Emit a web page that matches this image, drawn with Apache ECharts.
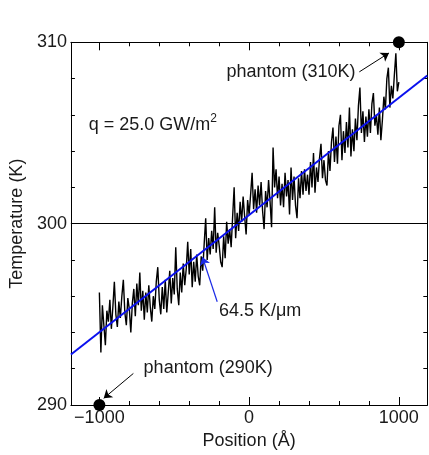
<!DOCTYPE html>
<html>
<head>
<meta charset="utf-8">
<script src="https://cdn.jsdelivr.net/npm/echarts@6/dist/echarts.min.js"></script>
<style>html,body{margin:0;padding:0;background:#fff}#c{width:429px;height:455px}</style>
</head>
<body>
<div id="c"></div>
<script>
// ---- data ----
const positionStart = -1000;   // Å
const positionStep = 10;       // Å
const temperatures = [
  296.2, 292.9, 295.5, 294.4, 293.3, 295.2, 294.6, 295.8, 294.2, 295.4,
  296.8, 295.0, 294.3, 295.7, 294.8, 296.0, 296.9, 295.1, 294.4, 295.9,
  295.3, 294.0, 295.6, 296.4, 294.9, 296.7, 295.5, 297.3, 295.2, 296.3,
  294.7, 296.2, 295.1, 296.6, 295.4, 294.6, 296.0, 295.3, 296.8, 297.6,
  295.8, 295.0, 296.5, 295.3, 296.9, 295.1, 296.2, 297.4, 295.6, 297.0,
  296.1, 298.7, 296.4, 295.5, 297.3, 296.2, 297.8, 296.6, 297.5, 299.0,
  297.2, 298.6, 296.5, 297.9, 296.8, 298.3, 297.1, 296.6, 298.2, 297.4,
  298.9, 300.3, 298.0, 299.2, 298.3, 299.6, 298.6, 300.9, 298.4, 299.5,
  298.8, 297.9, 297.6, 299.3, 298.1, 300.1, 298.9, 299.7, 298.7, 300.4,
  302.0, 299.2, 300.6, 299.6, 301.2, 300.1, 301.5, 300.4, 299.4, 301.3,
  300.5, 301.6, 302.8, 300.8, 301.9, 300.6, 302.1, 301.0, 302.3, 300.7,
  299.7, 301.8, 300.9, 302.4, 301.2, 299.8, 304.2, 302.0, 303.0, 301.4,
  302.6, 301.0, 302.2, 300.9, 302.8, 301.5, 302.4, 300.5, 303.1, 301.3,
  302.6, 301.0, 300.3, 302.5, 301.4, 302.9, 301.6, 303.0, 301.8, 302.7,
  301.6, 303.4, 302.0, 303.9, 301.7, 303.1, 302.3, 303.6, 304.4, 302.5,
  303.5, 302.4, 302.1, 304.0, 302.9, 304.5, 305.3, 303.4, 304.8, 303.3,
  305.4, 306.0, 303.5, 305.1, 303.9, 305.6, 304.2, 306.4, 303.7, 305.2,
  304.0, 305.8, 304.6, 306.5, 307.5, 305.0, 306.2, 304.5, 305.9, 304.8,
  306.3, 305.0, 306.6, 307.2, 305.4, 306.0, 304.9, 306.4, 304.6, 305.7,
  307.0, 306.3, 308.0, 308.6, 306.4, 307.6, 306.9, 308.2, 309.4, 307.3, 307.8
];
const fitX = [-1190, 1190];
const fitT = [292.78, 308.17];
const phantomX = [-1000, 1000];
const phantomT = [290, 310];
const xMajorTicks = [-1000, 0, 1000];
const xMinorTicks = [-1200, -800, -600, -400, -200, 200, 400, 600, 800];
const yTickLabels = [290, 300, 310];
const qLabel = 'q = 25.0 GW/m';
const gradientLabel = '64.5 K/\u03bcm';
const phantomHiLabel = 'phantom (310K)';
const phantomLoLabel = 'phantom (290K)';

// ---- build ----
const trace = temperatures.map((t, i) => [positionStart + i * positionStep, t]);
const fit = fitX.map((x, i) => [x, fitT[i]]);
const phantoms = phantomX.map((x, i) => [x, phantomT[i]]);

const FONT = 'Liberation Sans, Arial, sans-serif';
const TXT = '#1a1a1a';
const XMIN = -1190, XMAX = 1190;

function xAx(pos, major, showLine, labels) {
  return {
    type: 'value', position: pos, min: XMIN, max: XMAX,
    axisLine: { show: showLine, onZero: false, lineStyle: { color: '#000', width: 1 } },
    axisTick: { show: true, inside: true, length: major ? 8 : 4, customValues: major ? xMajorTicks : xMinorTicks, lineStyle: { color: '#000', width: 1 } },
    axisLabel: labels ? {
      show: true, customValues: xMajorTicks, margin: 4, fontSize: 18, fontFamily: FONT, color: TXT,
      formatter: v => (v < 0 ? '\u2212' + Math.abs(v) : String(v))
    } : { show: false },
    splitLine: { show: false },
    name: labels ? 'Position (\u00c5)' : '',
    nameLocation: 'middle', nameGap: 27,
    nameTextStyle: { fontSize: 18, fontFamily: FONT, color: TXT }
  };
}
function yAx(pos, labels) {
  return {
    type: 'value', position: pos, min: 290, max: 310, interval: 10,
    axisLine: { show: true, onZero: false, lineStyle: { color: '#000', width: 1 } },
    axisTick: { show: true, inside: true, length: 8, lineStyle: { color: '#000', width: 1 } },
    minorTick: { show: true, splitNumber: 5, length: 4, lineStyle: { color: '#000', width: 1 } },
    axisLabel: labels ? { show: true, margin: 4, fontSize: 18, fontFamily: FONT, color: TXT } : { show: false },
    splitLine: { show: false },
    name: labels ? 'Temperature (K)' : '',
    nameLocation: 'middle', nameGap: 40, nameRotate: 90,
    nameTextStyle: { fontSize: 18, fontFamily: FONT, color: TXT }
  };
}

const chart = echarts.init(document.getElementById('c'), null, { renderer: 'canvas' });
const labelStyle = { fontSize: 18, fontFamily: FONT, color: TXT };

chart.setOption({
  animation: false,
  backgroundColor: '#fff',
  grid: { left: 66.5, right: 1.7, top: 42.3, bottom: 48.3, containLabel: false },
  xAxis: [xAx('bottom', true, true, true), xAx('bottom', false, false, false), xAx('top', true, true, false), xAx('top', false, false, false)],
  yAxis: [yAx('left', true), yAx('right', false)],
  series: [
    {
      type: 'line', data: trace, xAxisIndex: 0, yAxisIndex: 0, showSymbol: false, symbol: 'none',
      lineStyle: { color: '#000', width: 1.4 }, z: 3,
      markLine: {
        silent: true, symbol: 'none', label: { show: false },
        lineStyle: { color: '#000', width: 1, type: 'solid' },
        data: [{ yAxis: 300 }]
      }
    },
    {
      type: 'line', data: fit, xAxisIndex: 0, yAxisIndex: 0, showSymbol: false, symbol: 'none',
      lineStyle: { color: '#0a10ee', width: 2 }, z: 4
    },
    {
      type: 'scatter', data: phantoms, xAxisIndex: 0, yAxisIndex: 0, symbol: 'circle', symbolSize: 12,
      itemStyle: { color: '#000', opacity: 1 }, clip: false, z: 6,
      markLine: {
        silent: true, symbol: ['none', 'arrow'], symbolSize: 8, label: { show: false },
        lineStyle: { type: 'solid', width: 1, color: '#000' },
        data: [
          [{ coord: [736, 308.37], lineStyle: { color: '#000', width: 1, type: 'solid' }, itemStyle: { color: '#000' } }, { coord: [934, 309.41] }],
          [{ coord: [-773, 291.74], lineStyle: { color: '#000', width: 1, type: 'solid' }, itemStyle: { color: '#000' } }, { coord: [-971, 290.37] }],
          [{ coord: [-213, 295.69], lineStyle: { color: '#1a2ae6', width: 1.2, type: 'solid' }, itemStyle: { color: '#1a2ae6' } }, { coord: [-312, 298.16] }]
        ]
      },
      markPoint: {
        silent: true, symbol: 'circle', symbolSize: 1, itemStyle: { color: 'rgba(0,0,0,0)' },
        label: { show: true, position: 'right', distance: 0, ...labelStyle },
        data: [
          { coord: [-155, 308.37], label: { formatter: phantomHiLabel } },
          { coord: [-708, 292.02], label: { formatter: phantomLoLabel } },
          { coord: [-205, 295.2], label: { formatter: gradientLabel } },
          { coord: [-1075, 305.46], label: {
              formatter: '{a|' + qLabel + '}{s|2}',
              rich: { a: { ...labelStyle }, s: { fontSize: 12, fontFamily: FONT, color: TXT, padding: [0, 0, 12, 0] } }
          } }
        ]
      }
    }
  ]
});
</script>
</body>
</html>
